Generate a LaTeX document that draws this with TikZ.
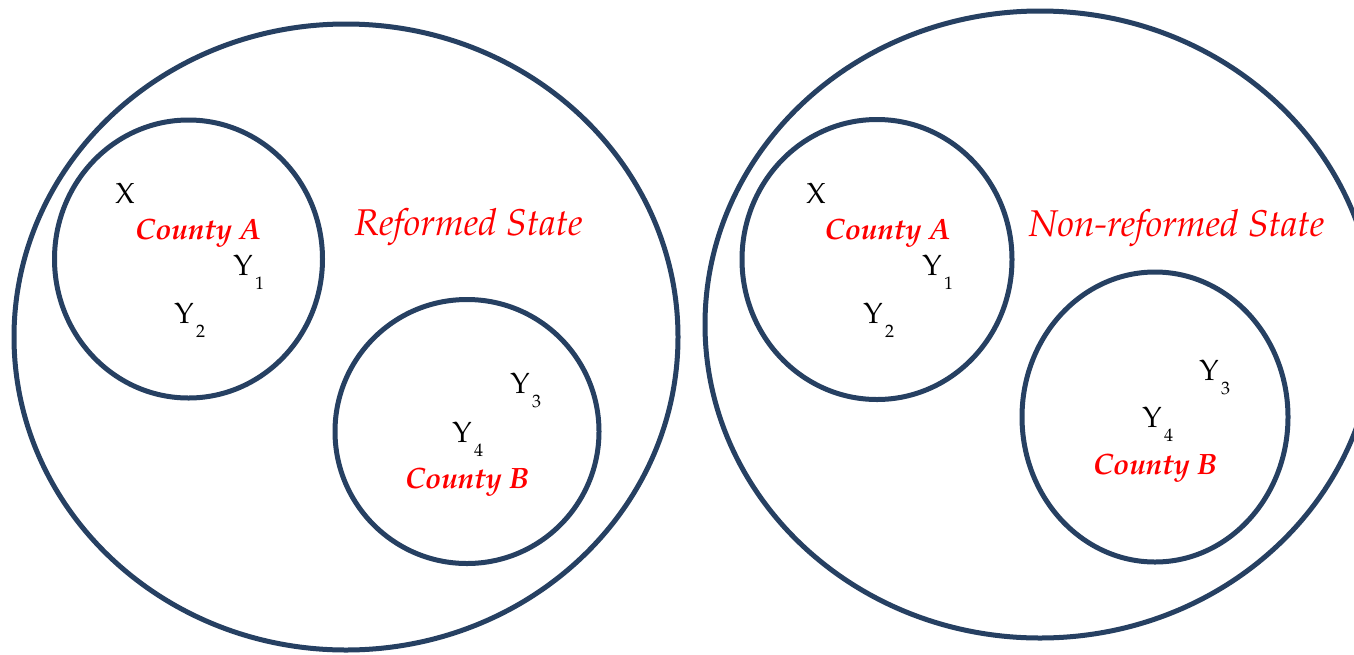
\documentclass[tikz,border=0pt]{standalone}
\usepackage[T1]{fontenc}
\usepackage{mathpazo}
\definecolor{ringblue}{RGB}{38,64,98}
\definecolor{labred}{RGB}{255,0,0}
\begin{document}
\begin{tikzpicture}[x=0.5pt,y=-0.5pt,
  ring/.style={draw=ringblue,line width=2.5pt},
  var/.style={inner sep=0pt,anchor=base west,font=\fontsize{14.5}{16}\selectfont},
  county/.style={inner sep=0pt,anchor=base,text=labred,font=\fontsize{14.7}{17}\selectfont\bfseries\itshape},
  statelab/.style={inner sep=0pt,anchor=base,text=labred,font=\fontsize{18.6}{20}\selectfont\itshape}]
\newcommand{\subv}[1]{\hspace{1.2pt}\raisebox{-7pt}{\fontsize{9}{10}\selectfont #1}}
\clip (0,0) rectangle (1354,654);
\path[fill=white] (0,0) rectangle (1354,654);
% left (reformed)
\draw[ring] (346,337) ellipse [x radius=332,y radius=313];
\draw[ring] (188.5,259) ellipse [x radius=134,y radius=139];
\draw[ring] (467,431.5) ellipse [x radius=132,y radius=132];
\node[var] (xl) at (115,203) {X};
\node[county] (cal) at (198,239) {County A};
\node[var] (y1l) at (233,275) {Y\subv{1}};
\node[var] (y2l) at (174,323) {Y\subv{2}};
\node[statelab] (rs) at (468.5,235) {Reformed State};
\node[var] (y3l) at (510,393) {Y\subv{3}};
\node[var] (y4l) at (452,442) {Y\subv{4}};
\node[county] (cbl) at (467,488) {County B};
% right (non-reformed)
\draw[ring] (1040,324.5) ellipse [x radius=335,y radius=313.5];
\draw[ring] (877,259.5) ellipse [x radius=135,y radius=140];
\draw[ring] (1155,417) ellipse [x radius=133,y radius=145];
\node[var] (xr) at (806,203) {X};
\node[county] (car) at (887.5,239) {County A};
\node[var] (y1r) at (922,275) {Y\subv{1}};
\node[var] (y2r) at (863,323) {Y\subv{2}};
\node[statelab] (nrs) at (1176.5,236) {Non-reformed State};
\node[var] (y3r) at (1199,380) {Y\subv{3}};
\node[var] (y4r) at (1142,427) {Y\subv{4}};
\node[county] (cbr) at (1155,474) {County B};
\end{tikzpicture}
\end{document}
